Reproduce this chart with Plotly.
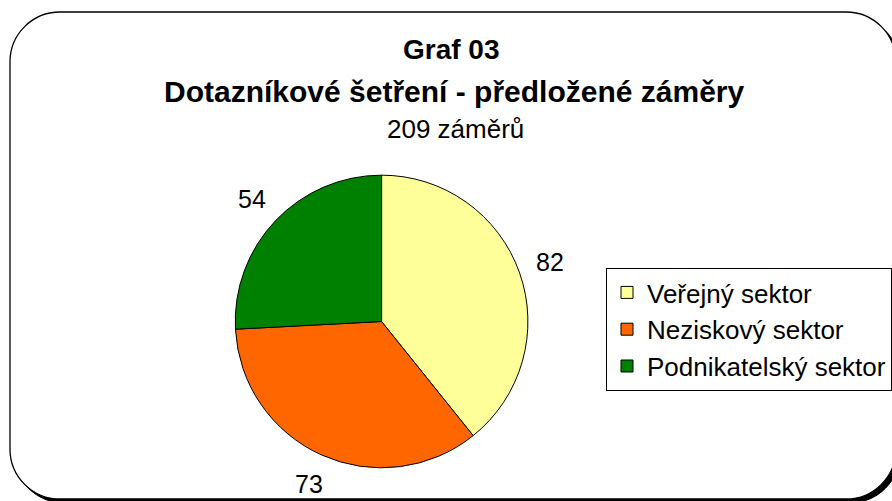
import math
import plotly.graph_objects as go

W, H = 892, 501

categories = ["Veřejný sektor", "Neziskový sektor", "Podnikatelský sektor"]
values = [82, 73, 54]
colors = ["#FFFF99", "#FF6600", "#008000"]

title_line1 = "Graf 03"
title_line2 = "Dotazníkové šetření - předložené záměry"
subtitle = "209 záměrů"

FONT = "Liberation Sans, Arial, sans-serif"


def px(x, y):
    return x / W, 1 - y / H


def rounded_rect_path(x0, y0, x1, y1, r):
    k = 0.5523 * r

    def p(x, y):
        a, b = px(x, y)
        return f"{a:.5f},{b:.5f}"
    d = f"M{p(x0 + r, y0)} L{p(x1 - r, y0)} "
    d += f"C{p(x1 - r + k, y0)} {p(x1, y0 + r - k)} {p(x1, y0 + r)} "
    d += f"L{p(x1, y1 - r)} "
    d += f"C{p(x1, y1 - r + k)} {p(x1 - r + k, y1)} {p(x1 - r, y1)} "
    d += f"L{p(x0 + r, y1)} "
    d += f"C{p(x0 + r - k, y1)} {p(x0, y1 - r + k)} {p(x0, y1 - r)} "
    d += f"L{p(x0, y0 + r)} "
    d += f"C{p(x0, y0 + r - k)} {p(x0 + r - k, y0)} {p(x0 + r, y0)} Z"
    return d


cx, cy, R = 382, 321.5, 146.5
dx0, dy1 = px(cx - R, cy - R)
dx1, dy0 = px(cx + R, cy + R)

fig = go.Figure(
    go.Pie(
        labels=categories,
        values=values,
        sort=False,
        direction="clockwise",
        rotation=0,
        marker=dict(colors=colors, line=dict(color="black", width=1)),
        textinfo="none",
        domain=dict(x=[dx0, dx1], y=[dy0, dy1]),
        hoverinfo="label+value",
        showlegend=True,
    )
)

shapes = [
    dict(type="path", xref="paper", yref="paper", layer="below",
         path=rounded_rect_path(14, 16, 901, 503, 50),
         fillcolor="black", line=dict(color="black", width=1)),
    dict(type="path", xref="paper", yref="paper", layer="below",
         path=rounded_rect_path(10, 12, 897, 499, 50),
         fillcolor="white", line=dict(color="black", width=1.3)),
]

annotations = [
    dict(text=f"<b>{title_line1}</b>", x=452 / W, y=1 - 49 / H, xref="paper", yref="paper",
         showarrow=False, xanchor="center", yanchor="middle",
         font=dict(family=FONT, size=28, color="black")),
    dict(text=f"<b>{title_line2}</b>", x=455 / W, y=1 - 91 / H, xref="paper", yref="paper",
         showarrow=False, xanchor="center", yanchor="middle",
         font=dict(family=FONT, size=30, color="black")),
    dict(text=subtitle, x=456 / W, y=1 - 129 / H, xref="paper", yref="paper",
         showarrow=False, xanchor="center", yanchor="middle",
         font=dict(family=FONT, size=26, color="black")),
]

# value labels placed outside each slice, at the slice's mid angle (derived from the values)
total = sum(values)
cum = 0
label_r = R + 32
for v in values:
    mid = (cum + v / 2) / total * 2 * math.pi
    cum += v
    lx = cx + label_r * math.sin(mid)
    ly = cy - label_r * math.cos(mid)
    ax, ay = px(lx, ly)
    annotations.append(dict(text=str(v), x=ax, y=ay, xref="paper", yref="paper",
                            showarrow=False, xanchor="center", yanchor="middle",
                            font=dict(family=FONT, size=25, color="black")))

fig.update_layout(
    width=W, height=H,
    margin=dict(l=0, r=0, t=0, b=0),
    paper_bgcolor="white",
    plot_bgcolor="white",
    shapes=shapes,
    annotations=annotations,
    legend=dict(
        x=607 / W, y=1 - 268 / H, xanchor="left", yanchor="top",
        bgcolor="white", bordercolor="black", borderwidth=1,
        font=dict(family=FONT, size=26, color="black"),
    ),
)

fig.write_html("out.html",
               config={"displayModeBar": False},
               post_script="document.body.style.margin='0';document.body.style.padding='0';")
